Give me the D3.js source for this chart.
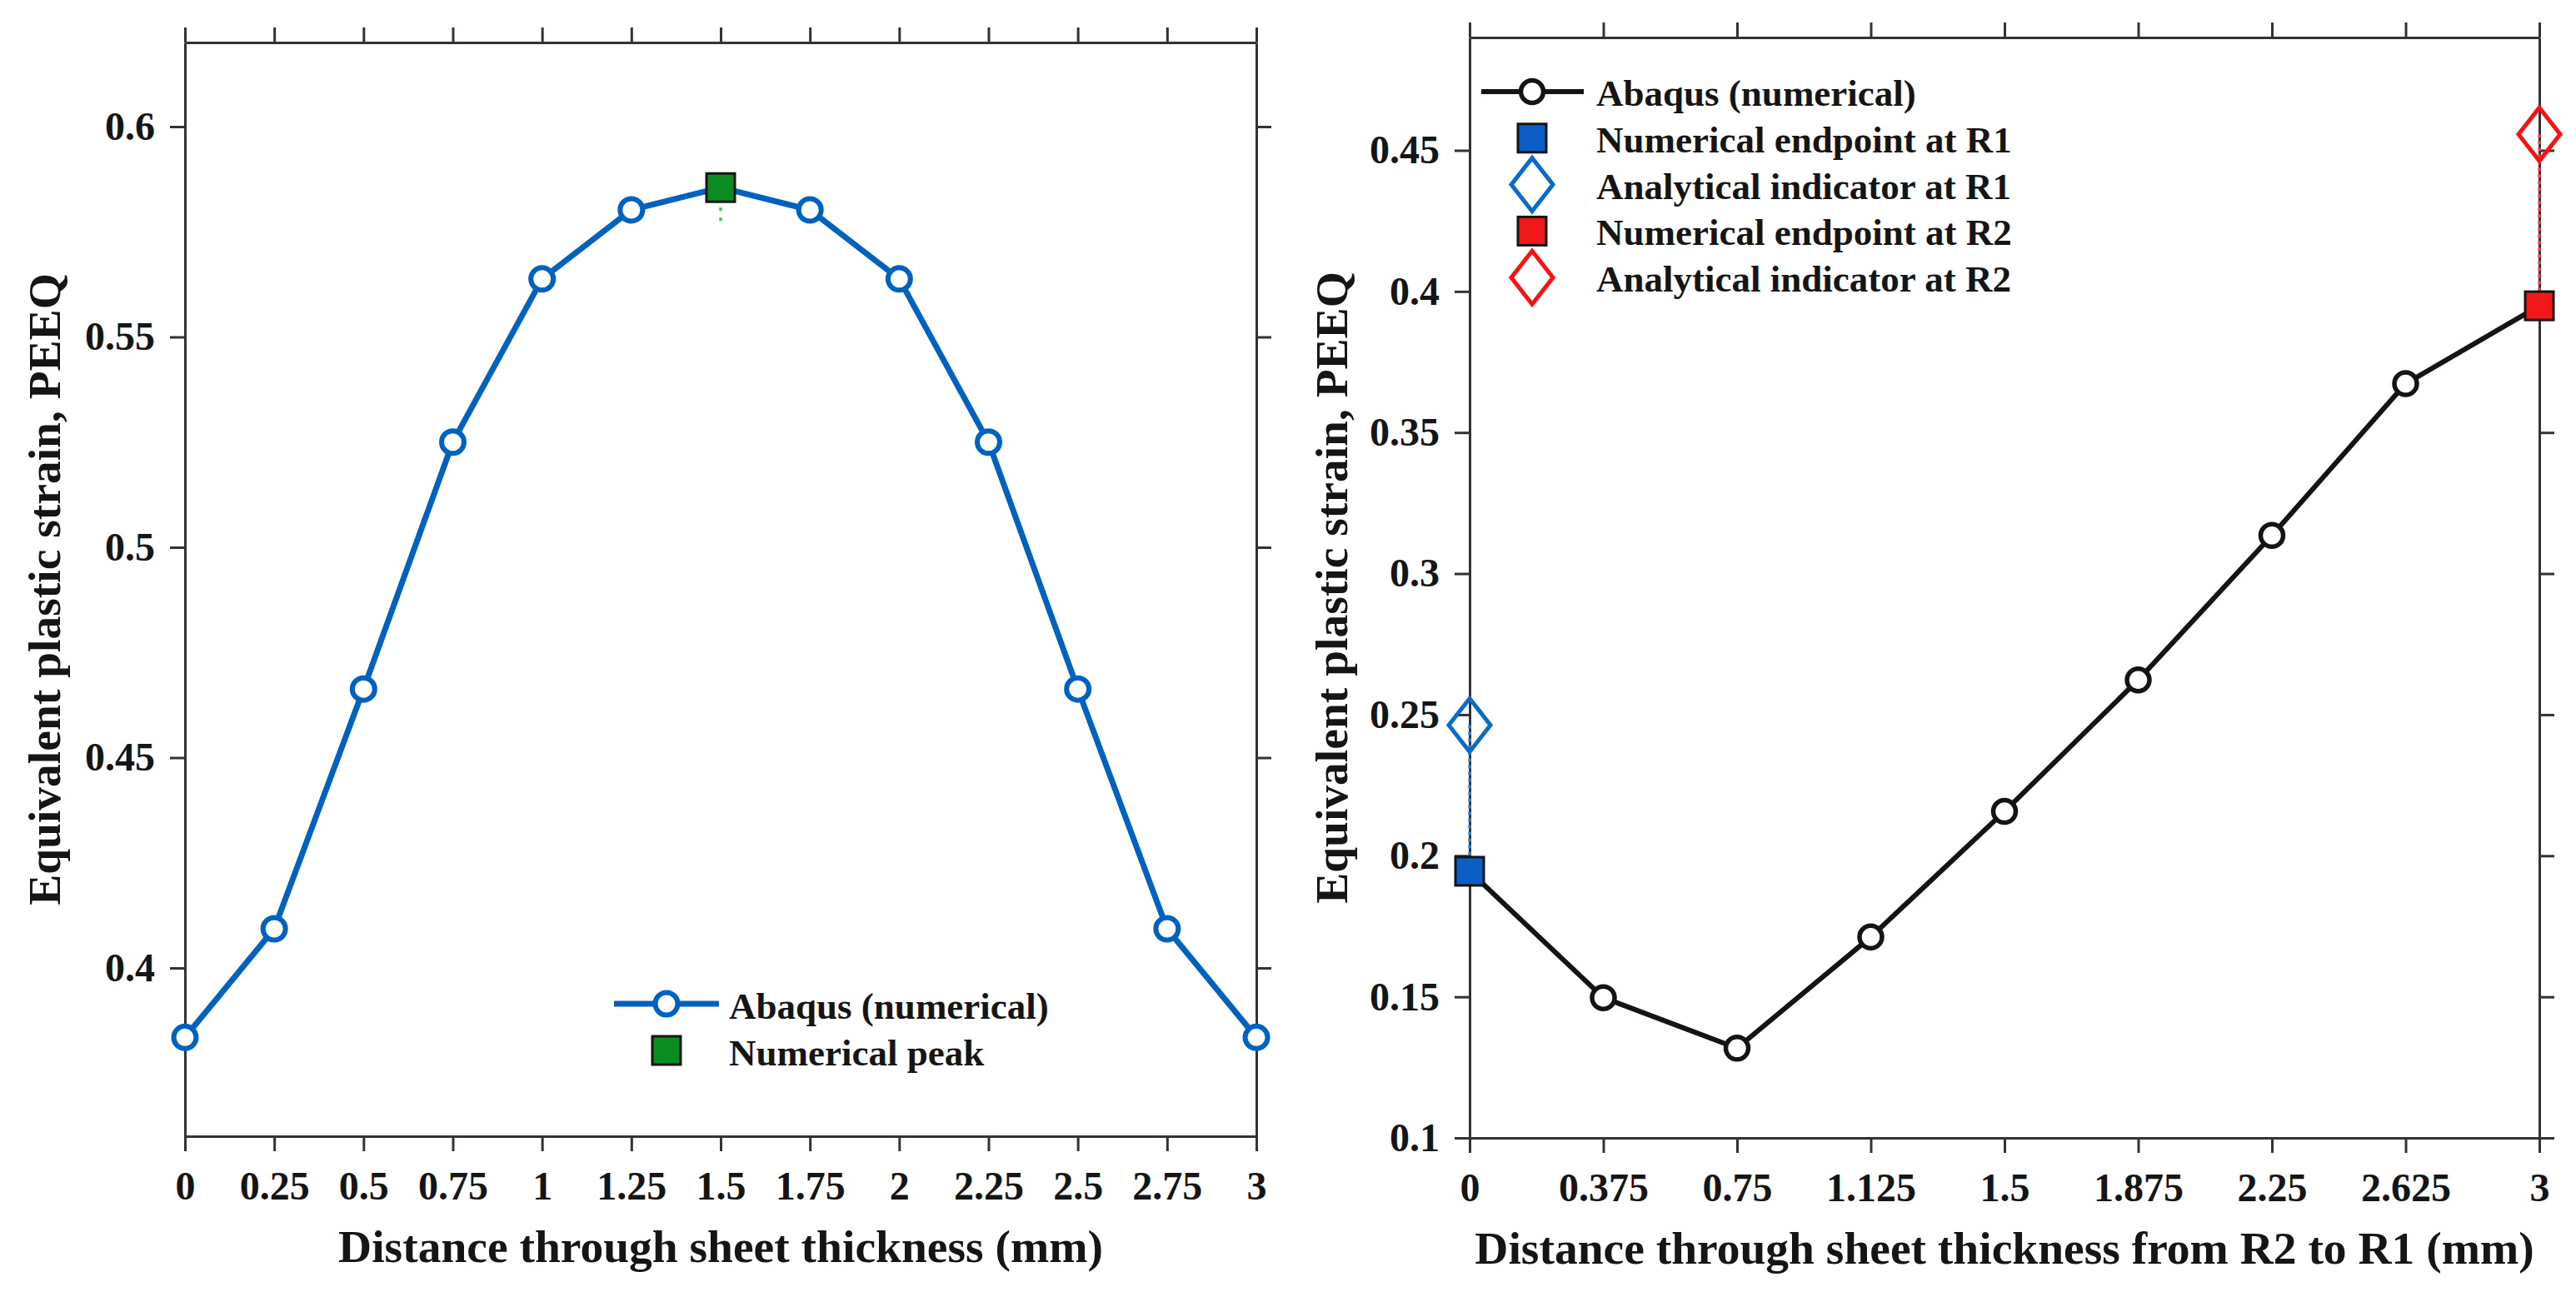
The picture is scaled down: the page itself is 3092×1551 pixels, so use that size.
<!DOCTYPE html>
<html>
<head>
<meta charset="utf-8">
<script src="https://cdn.jsdelivr.net/npm/d3@7/dist/d3.min.js"></script>
<style>
  html, body { margin: 0; padding: 0; background: #fff; }
  svg text { font-family: "Liberation Serif", "Times New Roman", serif; font-weight: bold; fill: #151515; }
  .tick text { font-size: 48px; }
  .axis-label { font-size: 55.5px; }
  .legend text { font-size: 45px; }
</style>
</head>
<body>
<svg id="chart" width="3092" height="1551"></svg>
<script>
(function() {
  // left panel: symmetric profile through the thickness
  var leftX = [0, 0.25, 0.5, 0.75, 1, 1.25, 1.5, 1.75, 2, 2.25, 2.5, 2.75, 3];
  var leftPeeq = [0.3835, 0.4093, 0.4663, 0.525, 0.5638, 0.5802, 0.5855, 0.5802, 0.5638, 0.525, 0.4663, 0.4093, 0.3835];
  var peakX = [1.5];
  var peakNum = [0.5855];
  var peakRef = [0.577];
  var leftXTicks = [0, 0.25, 0.5, 0.75, 1, 1.25, 1.5, 1.75, 2, 2.25, 2.5, 2.75, 3];
  var leftYTicks = [0.4, 0.45, 0.5, 0.55, 0.6];
  var leftYDomain = [0.36, 0.62];
  var leftLegend = ['Abaqus (numerical)', 'Numerical peak'];

  // right panel: R2 -> R1 profile with end indicators
  var rightX = [0, 0.375, 0.75, 1.125, 1.5, 1.875, 2.25, 2.625, 3];
  var rightPeeq = [0.1945, 0.1497, 0.1318, 0.1712, 0.2157, 0.2623, 0.3135, 0.3673, 0.3949];
  var endX = [0, 3];
  var endNum = [0.1945, 0.3949];
  var endAna = [0.2463, 0.4557];
  var rightXTicks = [0, 0.375, 0.75, 1.125, 1.5, 1.875, 2.25, 2.625, 3];
  var rightYTicks = [0.1, 0.15, 0.2, 0.25, 0.3, 0.35, 0.4, 0.45];
  var rightYDomain = [0.1, 0.49];
  var rightLegend = ['Abaqus (numerical)', 'Numerical endpoint at R1', 'Analytical indicator at R1', 'Numerical endpoint at R2', 'Analytical indicator at R2'];

  var yLabel = 'Equivalent plastic strain, PEEQ';
  var blue = '#0062bf', black = '#141414', axisColor = '#333333';
  var endFill = ['#0b5ec6', '#f01818'];
  var endStroke = ['#0a6cc8', '#ff1010'];
  var endDot = ['#2f86d6', '#ff4040'];
  var green = '#0a8c22';

  var svg = d3.select('#chart');
  svg.append('rect').attr('width', 3092).attr('height', 1551).attr('fill', '#fff');

  var diamond = function(w, h) {
    return 'M0,' + (-h / 2) + 'L' + (w / 2) + ',0L0,' + (h / 2) + 'L' + (-w / 2) + ',0Z';
  };

  var drawPanel = function(p) {
    var g, x, y, fmt;
    g = svg.append('g');
    x = d3.scaleLinear().domain([0, 3]).range([p.left, p.right]);
    y = d3.scaleLinear().domain(p.yDomain).range([p.bottom, p.top]);
    fmt = function(d) { return String(d); };

    var styleAxis = function(sel) {
      sel.attr('font-size', null).attr('font-family', null);
      sel.selectAll('path, line').attr('stroke', axisColor).attr('stroke-width', 3);
    };

    g.append('g').attr('transform', 'translate(0,' + p.bottom + ')')
      .call(d3.axisBottom(x).tickValues(p.xTicks).tickFormat(fmt).tickSize(18).tickSizeOuter(0).tickPadding(24))
      .call(styleAxis);
    g.append('g').attr('transform', 'translate(0,' + p.top + ')')
      .call(d3.axisTop(x).tickValues(p.xTicks).tickFormat('').tickSize(18).tickSizeOuter(0))
      .call(styleAxis);
    g.append('g').attr('transform', 'translate(' + p.left + ',0)')
      .call(d3.axisLeft(y).tickValues(p.yTicks).tickFormat(fmt).tickSize(18).tickSizeOuter(0).tickPadding(18))
      .call(styleAxis);
    g.append('g').attr('transform', 'translate(' + p.right + ',0)')
      .call(d3.axisRight(y).tickValues(p.yTicks).tickFormat('').tickSize(18).tickSizeOuter(0))
      .call(styleAxis);

    g.append('text').attr('class', 'axis-label')
      .attr('x', (p.left + p.right) / 2).attr('y', p.bottom + 151)
      .attr('text-anchor', 'middle').text(p.xLabel);
    g.append('text').attr('class', 'axis-label')
      .attr('transform', 'translate(' + p.yLabelX + ',' + (p.top + p.bottom) / 2 + ') rotate(-90)')
      .attr('text-anchor', 'middle').text(yLabel);

    return { g: g, x: x, y: y };
  };

  // ---- left panel
  var L = drawPanel({
    left: 222, right: 1508, top: 51, bottom: 1364,
    yDomain: leftYDomain, xTicks: leftXTicks, yTicks: leftYTicks,
    xLabel: 'Distance through sheet thickness (mm)', yLabelX: 72
  });

  var leftPts = leftX.map(function(d, i) { return [d, leftPeeq[i]]; });
  L.g.append('path').datum(leftPts)
    .attr('fill', 'none').attr('stroke', blue).attr('stroke-width', 7).attr('stroke-linejoin', 'round')
    .attr('d', d3.line().x(function(d) { return L.x(d[0]); }).y(function(d) { return L.y(d[1]); }));
  L.g.selectAll('circle.pt').data(leftPts).enter().append('circle')
    .attr('class', 'pt')
    .attr('cx', function(d) { return L.x(d[0]); })
    .attr('cy', function(d) { return L.y(d[1]); })
    .attr('r', 13.5).attr('fill', '#fff').attr('stroke', blue).attr('stroke-width', 6);

  L.g.selectAll('line.peakref').data(peakX).enter().append('line')
    .attr('class', 'peakref')
    .attr('x1', function(d) { return L.x(d); }).attr('x2', function(d) { return L.x(d); })
    .attr('y1', function(d, i) { return L.y(peakNum[i]); })
    .attr('y2', function(d, i) { return L.y(peakRef[i]); })
    .attr('stroke', '#4cbf6a').attr('stroke-width', 3.5).attr('stroke-dasharray', '4,8');
  L.g.selectAll('rect.peak').data(peakX).enter().append('rect')
    .attr('class', 'peak')
    .attr('x', function(d) { return L.x(d) - 17; })
    .attr('y', function(d, i) { return L.y(peakNum[i]) - 17; })
    .attr('width', 34).attr('height', 34)
    .attr('fill', green).attr('stroke', black).attr('stroke-width', 3);

  var lg = L.g.append('g').attr('class', 'legend');
  lg.append('line').attr('x1', 737).attr('x2', 863).attr('y1', 1205).attr('y2', 1205)
    .attr('stroke', blue).attr('stroke-width', 7);
  lg.append('circle').attr('cx', 800).attr('cy', 1205).attr('r', 13.5)
    .attr('fill', '#fff').attr('stroke', blue).attr('stroke-width', 6);
  lg.append('rect').attr('x', 783).attr('y', 1244).attr('width', 34).attr('height', 34)
    .attr('fill', green).attr('stroke', black).attr('stroke-width', 3);
  lg.selectAll('text').data(leftLegend).enter().append('text')
    .attr('x', 875).attr('y', function(d, i) { return 1223 + i * 56; })
    .text(function(d) { return d; });

  // ---- right panel
  var R = drawPanel({
    left: 1764, right: 3048, top: 45, bottom: 1366,
    yDomain: rightYDomain, xTicks: rightXTicks, yTicks: rightYTicks,
    xLabel: 'Distance through sheet thickness from R2 to R1 (mm)', yLabelX: 1617
  });

  var rightPts = rightX.map(function(d, i) { return [d, rightPeeq[i]]; });
  R.g.append('path').datum(rightPts)
    .attr('fill', 'none').attr('stroke', black).attr('stroke-width', 6).attr('stroke-linejoin', 'round')
    .attr('d', d3.line().x(function(d) { return R.x(d[0]); }).y(function(d) { return R.y(d[1]); }));
  R.g.selectAll('circle.pt').data(rightPts.slice(1, -1)).enter().append('circle')
    .attr('class', 'pt')
    .attr('cx', function(d) { return R.x(d[0]); })
    .attr('cy', function(d) { return R.y(d[1]); })
    .attr('r', 13.5).attr('fill', '#fff').attr('stroke', black).attr('stroke-width', 5.5);

  R.g.selectAll('line.endref').data(endX).enter().append('line')
    .attr('class', 'endref')
    .attr('x1', function(d) { return R.x(d); }).attr('x2', function(d) { return R.x(d); })
    .attr('y1', function(d, i) { return R.y(endAna[i]); })
    .attr('y2', function(d, i) { return R.y(endNum[i]); })
    .attr('stroke', function(d, i) { return endDot[i]; })
    .attr('stroke-width', 3.5).attr('stroke-dasharray', '4,4');
  R.g.selectAll('rect.end').data(endX).enter().append('rect')
    .attr('class', 'end')
    .attr('x', function(d) { return R.x(d) - 17; })
    .attr('y', function(d, i) { return R.y(endNum[i]) - 17; })
    .attr('width', 34).attr('height', 34)
    .attr('fill', function(d, i) { return endFill[i]; })
    .attr('stroke', black).attr('stroke-width', 3);
  R.g.selectAll('path.ana').data(endX).enter().append('path')
    .attr('class', 'ana')
    .attr('transform', function(d, i) { return 'translate(' + R.x(d) + ',' + R.y(endAna[i]) + ')'; })
    .attr('d', diamond(50, 64))
    .attr('fill', 'none')
    .attr('stroke', function(d, i) { return endStroke[i]; })
    .attr('stroke-width', 5);

  var rg = R.g.append('g').attr('class', 'legend');
  var rowY = function(i) { return 110 + i * 55.8; };
  rg.append('line').attr('x1', 1778).attr('x2', 1901).attr('y1', rowY(0)).attr('y2', rowY(0))
    .attr('stroke', black).attr('stroke-width', 6);
  rg.append('circle').attr('cx', 1839).attr('cy', rowY(0)).attr('r', 13.5)
    .attr('fill', '#fff').attr('stroke', black).attr('stroke-width', 5.5);
  [0, 1].forEach(function(k) {
    rg.append('rect').attr('x', 1839 - 17).attr('y', rowY(1 + 2 * k) - 17)
      .attr('width', 34).attr('height', 34)
      .attr('fill', endFill[k]).attr('stroke', black).attr('stroke-width', 3);
    rg.append('path').attr('transform', 'translate(1839,' + rowY(2 + 2 * k) + ')')
      .attr('d', diamond(50, 64)).attr('fill', 'none')
      .attr('stroke', endStroke[k]).attr('stroke-width', 5);
  });
  rg.selectAll('text').data(rightLegend).enter().append('text')
    .attr('x', 1916).attr('y', function(d, i) { return rowY(i) + 17; })
    .text(function(d) { return d; });

}).call(this);
</script>
</body>
</html>
